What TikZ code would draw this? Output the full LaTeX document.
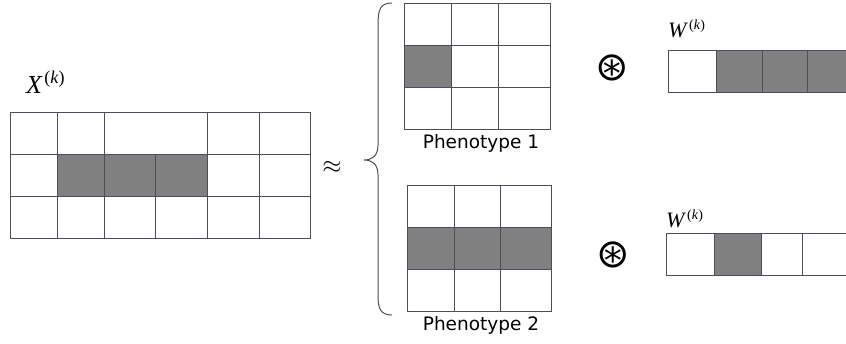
\documentclass[tikz,border=0pt]{standalone}
\usepackage{amssymb}
\usepackage{fontspec}
\setmainfont{Liberation Serif}
\newfontfamily\dejavu{DejaVu Sans}
\definecolor{gridc}{HTML}{4A4F5A}
\definecolor{shadec}{HTML}{808080}
\begin{document}
\begin{tikzpicture}[x=1pt,y=-1pt,
  gl/.style={draw=gridc,line width=1pt},
  cellfill/.style={fill=shadec},
  lbl/.style={font=\dejavu\fontsize{18.5}{20}\selectfont,inner sep=0pt},
  mlbl/.style={inner sep=0pt,anchor=base west},
  opsym/.style={inner sep=0pt,font=\dejavu\fontsize{40}{42}\selectfont}]
\clip (0,0) rectangle (846,343);
\fill[white] (0,0) rectangle (846,343);

% ---- X^(k) grid ----
\fill[cellfill] (57.5,154) rectangle (207,196);
\draw[gl] (10,112) rectangle (310,238);
\foreach \y in {154,196} \draw[gl] (10,\y) -- (310,\y);
\foreach \x in {57.5,104,207,259} \draw[gl] (\x,112) -- (\x,238);
\draw[gl] (155,154) -- (155,238);
\node[mlbl,font=\fontsize{26}{28}\selectfont] (xlab) at (26,93)
  {\textit{X}\kern1.5pt\raisebox{9.5pt}{\fontsize{18}{19}\selectfont(\textit{k})}};

% ---- approx ----
\node[inner sep=0pt,font=\fontsize{26}{28}\selectfont] (approx) at (332,167) {$\approx$};

% ---- brace ----
\draw[draw=gridc,line width=1pt] (392,3) .. controls (380,3) and (378,10) .. (378,25)
  -- (378,145) .. controls (378,156) and (372,160) .. (364,160)
  .. controls (372,160) and (378,164) .. (378,175)
  -- (378,295) .. controls (378,308) and (380,315) .. (392,315);

% ---- Phenotype 1 ----
\fill[cellfill] (404,45) rectangle (451,87);
\draw[gl] (404,3) rectangle (550,129);
\foreach \x in {451,498} \draw[gl] (\x,3) -- (\x,129);
\foreach \y in {45,87} \draw[gl] (404,\y) -- (550,\y);
\node[lbl] (p1) at (481,143) {Phenotype 1};

% ---- Phenotype 2 ----
\fill[cellfill] (407,227.5) rectangle (551.5,269.5);
\draw[gl] (407,185) rectangle (551.5,311.5);
\foreach \x in {454.5,500.5} \draw[gl] (\x,185) -- (\x,311.5);
\foreach \y in {227.5,269.5} \draw[gl] (407,\y) -- (551.5,\y);
\node[lbl] (p2) at (481,325) {Phenotype 2};

% ---- circled ast ----
\node[opsym] (ast1) at (612.5,67.5) {⊛};
\node[opsym] (ast2) at (613,255) {⊛};

% ---- W top ----
\fill[cellfill] (716,50) rectangle (870,92);
\draw[gl] (668,50) rectangle (870,92);
\foreach \x in {716,762,807,853} \draw[gl] (\x,50) -- (\x,92);
\node[mlbl,font=\fontsize{22}{24}\selectfont] (w1) at (668,37)
  {\textit{W}\kern1pt\raisebox{8pt}{\fontsize{14}{15}\selectfont(\textit{k})}};

% ---- W bottom ----
\fill[cellfill] (714,233) rectangle (761,275);
\draw[gl] (666,233) rectangle (870,275);
\foreach \x in {714,761,802,848} \draw[gl] (\x,233) -- (\x,275);
\node[mlbl,font=\fontsize{22}{24}\selectfont] (w2) at (666,227)
  {\textit{W}\kern1pt\raisebox{8pt}{\fontsize{14}{15}\selectfont(\textit{k})}};
\end{tikzpicture}
\end{document}
